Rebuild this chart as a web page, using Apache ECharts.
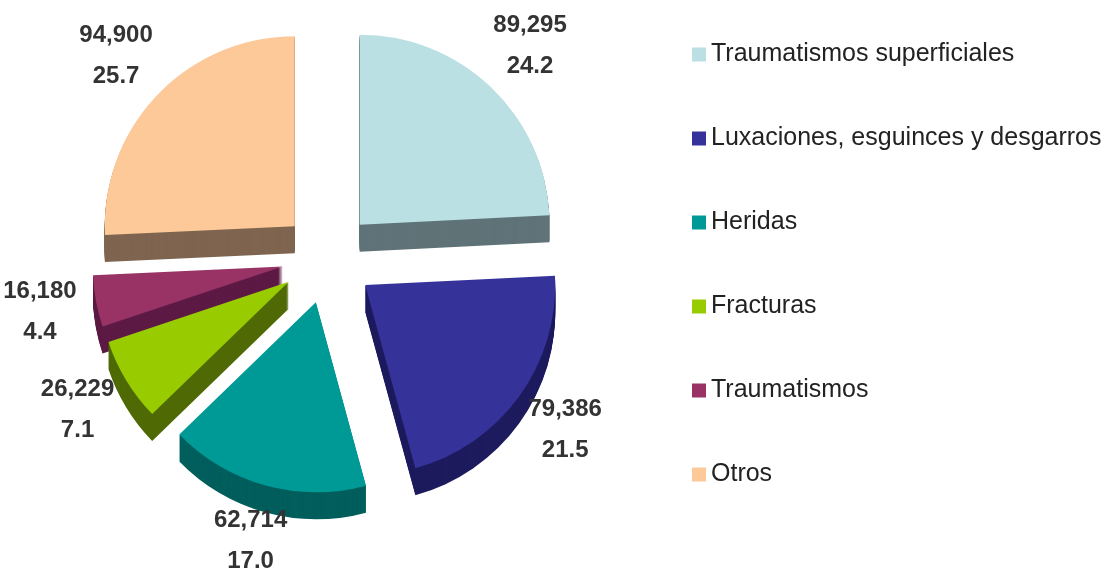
<!DOCTYPE html>
<html><head><meta charset="utf-8">
<script src="https://cdn.jsdelivr.net/npm/echarts@6/dist/echarts.min.js"></script>
<style>html,body{margin:0;padding:0;background:#fff}#c{width:1109px;height:574px}</style>
</head><body><div id="c"></div>
<script>
const categories = ['Traumatismos superficiales', 'Luxaciones, esguinces y desgarros', 'Heridas', 'Fracturas', 'Traumatismos', 'Otros'];
const values = [89295, 79386, 62714, 26229, 16180, 94900];
const percents = ['24.2', '21.5', '17.0', '7.1', '4.4', '25.7'];
const topColors = ['#bbe0e3', '#35339a', '#009a96', '#99cc00', '#993366', '#fdc998'];
const sideColors = ['#5f7378', '#1d1b5e', '#005e5c', '#4f6a05', '#5c1a44', '#7f6550'];

const CX = 328, CY = 258, R = 190, EXPLODE = 46, DEPTH = 27;
function fmt(n) { return n.toLocaleString('en-US'); }
function pieData(colors) {
  return categories.map((name, i) => ({
    name, value: values[i], selected: true,
    itemStyle: { color: colors[i] },
    select: { itemStyle: { color: colors[i] } }
  }));
}
const base = {
  type: 'pie', startAngle: 90, clockwise: true, selectedMode: 'multiple',
  selectedOffset: EXPLODE, animation: false, silent: true,
  labelLine: { show: false }, emphasis: { disabled: true },
  itemStyle: { borderWidth: 0 }
};
const series = [];
series.push(Object.assign({}, base, {
  name: 'top', z: 5, center: [CX, CY], radius: [0, R],
  label: { show: false }, data: pieData(topColors)
}));
for (let k = DEPTH; k >= 1; k -= 1) {
  series.push(Object.assign({}, base, {
    name: 'side' + k, z: 3, center: [CX, CY + k], radius: [0, R],
    label: { show: false }, data: pieData(sideColors)
  }));
}
series.push(Object.assign({}, base, {
  name: 'labels', z: 6, center: [CX, CY], radius: [R + 47, R + 61],
  itemStyle: { color: 'rgba(0,0,0,0)', borderWidth: 0 },
  label: {
    show: true, position: 'inside', color: '#333',
    fontFamily: 'Liberation Sans', fontSize: 24, fontWeight: 'bold', lineHeight: 41,
    formatter: p => fmt(values[p.dataIndex]) + '\n' + percents[p.dataIndex]
  },
  data: categories.map((name, i) => ({
    name, value: values[i], selected: true,
    itemStyle: { color: 'rgba(0,0,0,0)' },
    select: { itemStyle: { color: 'rgba(0,0,0,0)' } }
  }))
}));

const chart = echarts.init(document.getElementById('c'));
chart.setOption({
  backgroundColor: '#fff',
  animation: false,
  legend: {
    orient: 'vertical', left: 687, top: 37, icon: 'rect',
    itemWidth: 14, itemHeight: 14, itemGap: 59, selectedMode: false,
    textStyle: { fontFamily: 'Liberation Sans', fontSize: 25, lineHeight: 25, color: '#222' },
    data: categories.map((name, i) => ({ name, itemStyle: { color: topColors[i] } }))
  },
  series
});
</script></body></html>
